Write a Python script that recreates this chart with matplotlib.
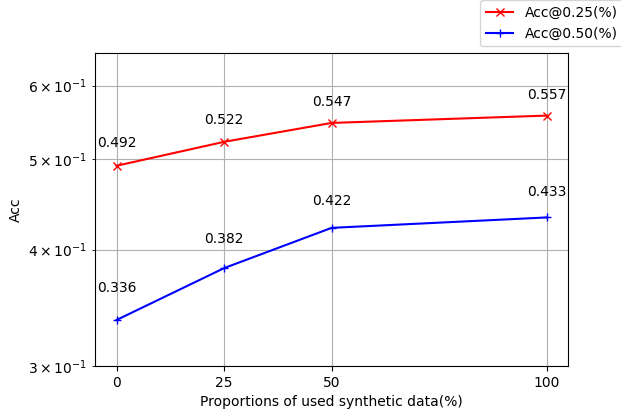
import matplotlib
matplotlib.use('Agg')
import matplotlib.pyplot as plt

proportions = [0, 25, 50, 100]
acc_025 = [0.492, 0.522, 0.547, 0.557]
acc_050 = [0.336, 0.382, 0.422, 0.433]

fig = plt.figure(figsize=(6.21, 4.12), dpi=100)
ax = fig.add_axes([0.153, 0.112, 0.762, 0.759])

ax.plot(proportions, acc_025, color='red', marker='x', label='Acc@0.25(%)')
ax.plot(proportions, acc_050, color='blue', marker='+', label='Acc@0.50(%)')

# value labels sit a fixed amount above each point (in data units)
for x, y in zip(proportions, acc_025):
    ax.text(x, y + 0.024, '%.3f' % y, ha='center')
for x, y in zip(proportions, acc_050):
    ax.text(x, y + 0.024, '%.3f' % y, ha='center')

ax.set_yscale('log')
ax.set_ylim(0.3, 0.65)
ax.set_xticks(proportions)
ax.set_xlabel('Proportions of used synthetic data(%)')
ax.set_ylabel('Acc')
ax.grid(True, which='both')

fig.legend(loc='upper right', bbox_to_anchor=(1 + 9 / 621, 1 + 7 / 412))
fig.savefig('out.png')
